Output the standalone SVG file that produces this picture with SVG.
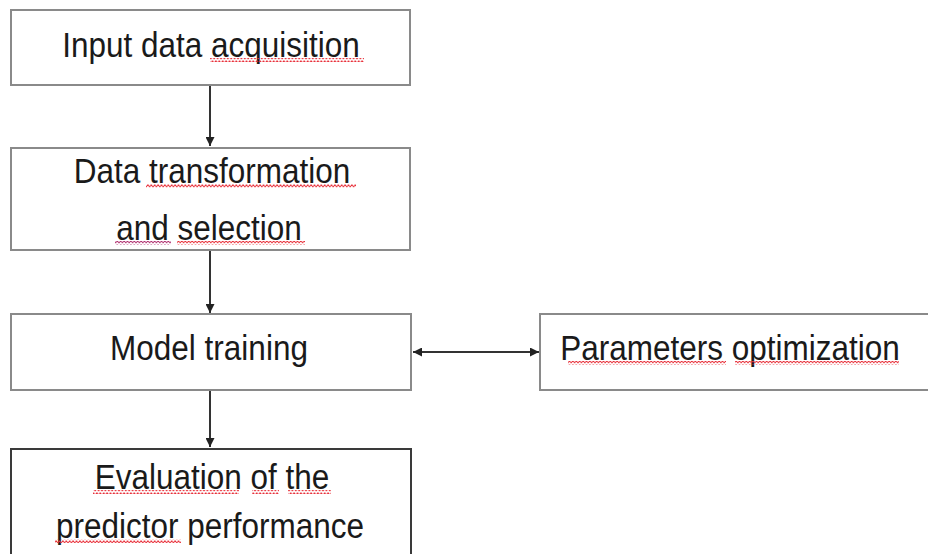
<svg xmlns="http://www.w3.org/2000/svg" width="928" height="554" viewBox="0 0 928 554">
<style>
.box{fill:#fff;stroke:#8a8a8a;stroke-width:2}
.box.dark{stroke:#3a3a3a}
.lbl{font-family:"Liberation Sans",Arial,sans-serif;font-size:31.5px;fill:#1a1a1a;text-anchor:middle}
.edge{stroke:#333;stroke-width:2;fill:none}
.sq{fill:url(#wavy)}
.sqp{fill:url(#wavyp)}
</style>
<defs>
<marker id="ah" viewBox="0 0 10 10" refX="10" refY="5" markerWidth="4.5" markerHeight="4.5" orient="auto-start-reverse" markerUnits="strokeWidth">
<path d="M0,0 L10,5 L0,10 z" fill="#222"/>
</marker>
<pattern id="wavy" x="0" y="0" width="3.4" height="4" patternUnits="userSpaceOnUse">
<path d="M-0.2,3.2 L1.7,0.8 L3.6,3.2" stroke="#e8303a" stroke-width="1" fill="none"/>
</pattern>
<pattern id="wavyp" x="0" y="0" width="3.4" height="4" patternUnits="userSpaceOnUse">
<path d="M-0.2,3.2 L1.7,0.8 L3.6,3.2" stroke="#b03070" stroke-width="1" fill="none"/>
</pattern>
</defs>
<g id="connectors">
<line class="edge" x1="210" y1="86" x2="210" y2="146" marker-end="url(#ah)"/>
<line class="edge" x1="210" y1="251" x2="210" y2="313" marker-end="url(#ah)"/>
<line class="edge" x1="210" y1="391" x2="210" y2="447" marker-end="url(#ah)"/>
<line class="edge" x1="413" y1="352" x2="539" y2="352" marker-start="url(#ah)" marker-end="url(#ah)"/>
</g>
<g id="n1">
<rect class="box" x="11" y="10" width="399" height="75"/>
<text class="lbl" transform="translate(211,57) scale(1,1.1)">Input data acquisition</text>
<rect class="sq" x="210" y="58" width="154" height="4"/>
</g>
<g id="n2">
<rect class="box" x="11" y="148" width="399" height="102"/>
<text class="lbl" transform="translate(212,183) scale(1,1.1)">Data transformation</text>
<text class="lbl" transform="translate(209,240) scale(1,1.1)">and selection</text>
<rect class="sq" x="146" y="184" width="210" height="4"/>
<rect class="sqp" x="115" y="241" width="56" height="4"/>
<rect class="sq" x="177" y="241" width="128" height="4"/>
</g>
<g id="n3">
<rect class="box" x="11" y="314" width="400" height="76"/>
<text class="lbl" transform="translate(209,360) scale(1,1.1)">Model training</text>
</g>
<g id="n4">
<rect class="box" x="540" y="314" width="400" height="76"/>
<text class="lbl" transform="translate(730,360) scale(1,1.1)">Parameters optimization</text>
<rect class="sq" x="568" y="361" width="158" height="4"/>
<rect class="sq" x="735" y="361" width="164" height="4"/>
</g>
<g id="n5">
<rect class="box dark" x="11" y="449" width="400" height="120"/>
<text class="lbl" transform="translate(212,489) scale(1,1.1)">Evaluation of the</text>
<text class="lbl" transform="translate(210,538) scale(1,1.1)">predictor performance</text>
<rect class="sq" x="93" y="490" width="146" height="4"/>
<rect class="sq" x="252" y="490" width="27" height="4"/>
<rect class="sq" x="288" y="490" width="43" height="4"/>
<rect class="sq" x="55" y="539" width="126" height="4"/>
</g>
</svg>
